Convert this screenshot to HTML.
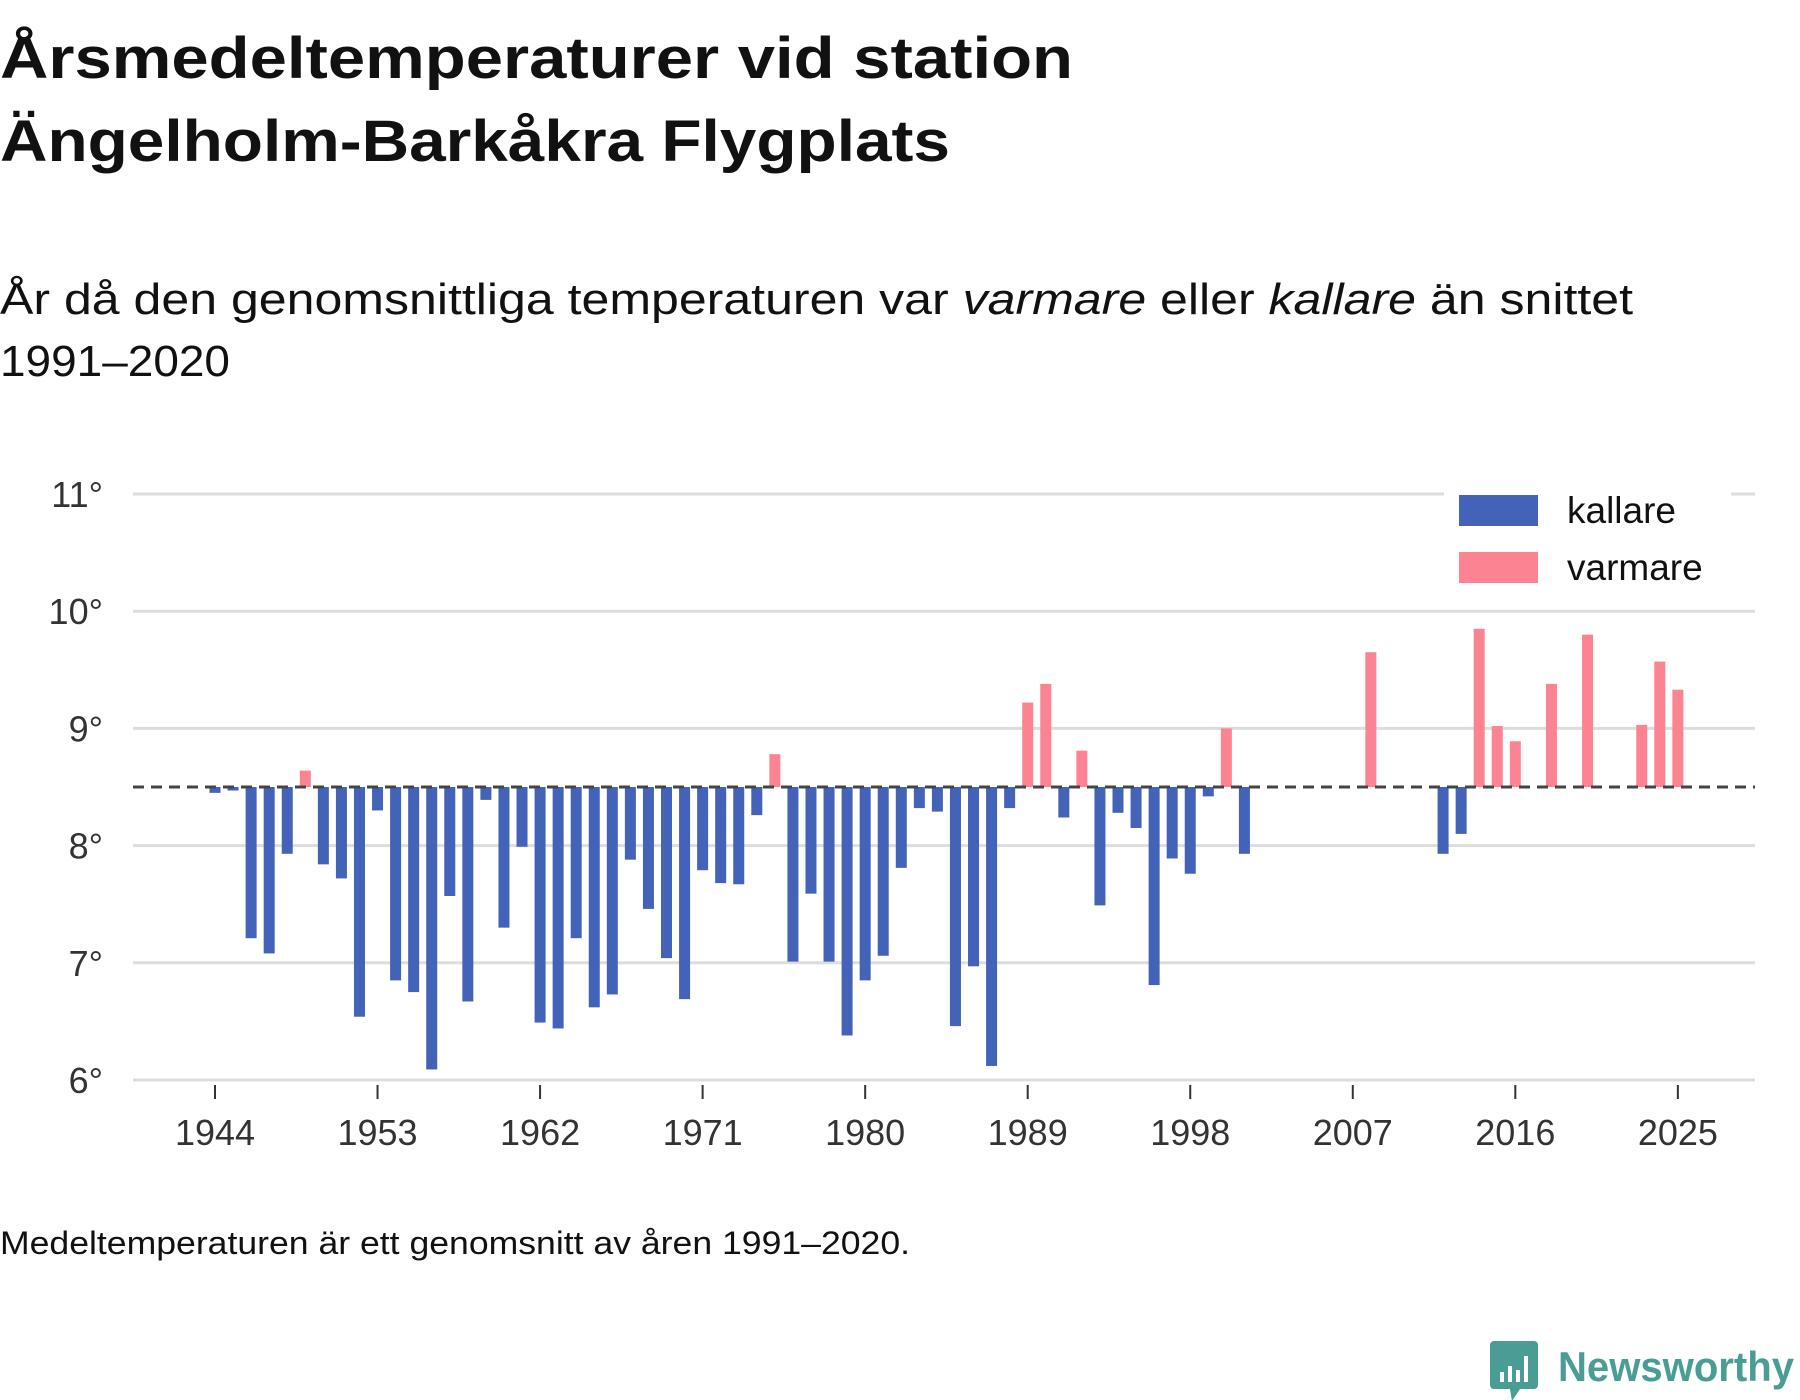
<!DOCTYPE html>
<html><head><meta charset="utf-8"><style>
html,body{margin:0;padding:0;background:#fff;}
svg{display:block;font-family:"Liberation Sans",sans-serif;}
</style></head><body>
<svg id="chart" width="1800" height="1400" viewBox="0 0 1800 1400">
<g>
<text x="0" y="78" font-size="58" font-weight="bold" fill="#111" textLength="1073" lengthAdjust="spacingAndGlyphs">Årsmedeltemperaturer vid station</text>
<text x="0" y="161" font-size="58" font-weight="bold" fill="#111" textLength="950" lengthAdjust="spacingAndGlyphs">Ängelholm-Barkåkra Flygplats</text>
<text x="0" y="314" font-size="44" fill="#111" textLength="1633" lengthAdjust="spacingAndGlyphs">År då den genomsnittliga temperaturen var <tspan font-style="italic">varmare</tspan> eller <tspan font-style="italic">kallare</tspan> än snittet</text>
<text x="0" y="376" font-size="44" fill="#111" textLength="230" lengthAdjust="spacingAndGlyphs">1991–2020</text>
</g>
<g id="grid"></g>
<g id="bars"></g>
<g id="axes"></g>
<g>
<rect x="1444" y="488" width="287" height="100" fill="#fff"/>
<rect x="1459" y="495" width="79" height="31" fill="#4263b8"/>
<text x="1567" y="523" font-size="37" fill="#111">kallare</text>
<rect x="1459" y="552" width="79" height="31" fill="#fc8391"/>
<text x="1567" y="580" font-size="37" fill="#111">varmare</text>
</g>
<text x="0" y="1254" font-size="32" fill="#111" textLength="910" lengthAdjust="spacingAndGlyphs">Medeltemperaturen är ett genomsnitt av åren 1991–2020.</text>
<g>
<path d="M1494 1341 h40 a4 4 0 0 1 4 4 v40 a4 4 0 0 1 -4 4 h-14 l-8 12 l-2 -12 h-16 a4 4 0 0 1 -4 -4 v-40 a4 4 0 0 1 4 -4z" fill="#4a9d95"/>
<rect x="1500" y="1372" width="4" height="10" fill="#fff"/>
<rect x="1508" y="1366" width="4" height="16" fill="#fff"/>
<rect x="1516" y="1370" width="4" height="12" fill="#fff"/>
<rect x="1524" y="1356" width="4" height="26" fill="#fff"/>
<text x="1558" y="1381" font-size="42" font-weight="bold" fill="#4a9d95" textLength="236" lengthAdjust="spacingAndGlyphs">Newsworthy</text>
</g>
</svg>
<script>
const years = [];
for (let y = 1944; y <= 2025; y++) years.push(y);
const baselineTemp = 8.5;
const temps = [
8.45,8.47,7.21,7.08,7.93,8.64,7.84,7.72,6.54,8.30,
6.85,6.75,6.09,7.57,6.67,8.39,7.30,7.99,6.49,6.44,
7.21,6.62,6.73,7.88,7.46,7.04,6.69,7.79,7.68,7.67,
8.26,8.78,7.01,7.59,7.01,6.38,6.85,7.06,7.81,8.32,
8.29,6.46,6.97,6.12,8.32,9.22,9.38,8.24,8.81,7.49,
8.28,8.15,6.81,7.89,7.76,8.42,9.00,7.93,null,null,
null,null,null,null,9.65,null,null,null,7.93,8.10,
9.85,9.02,8.89,null,9.38,null,9.80,null,null,9.03,
9.57,9.33];
const yTicks = [6,7,8,9,10,11];
const yTickLabels = ["6°","7°","8°","9°","10°","11°"];
const xTicks = [1944,1953,1962,1971,1980,1989,1998,2007,2016,2025];
const xTickLabels = ["1944","1953","1962","1971","1980","1989","1998","2007","2016","2025"];

const NS = "http://www.w3.org/2000/svg";
const xScale = y => 215 + (y - 1944) * 18.06;
const yScale = v => 1080 - (v - 6) * 117.2;
function mk(tag, attrs, parent){const e=document.createElementNS(NS,tag);for(const k in attrs)e.setAttribute(k,attrs[k]);parent.appendChild(e);return e;}
const grid=document.getElementById('grid'), bars=document.getElementById('bars'), axes=document.getElementById('axes');
yTicks.forEach((t,i)=>{
  const l=mk('line',{x1:133,x2:1755,y1:yScale(t),y2:yScale(t),stroke:'#dddddd','stroke-width':3},grid);
  
  
  const tx=mk('text',{x:103,y:yScale(t)+13,'font-size':36,fill:'#333','text-anchor':'end'},axes);
  tx.textContent=yTickLabels[i];
  
  
});
years.forEach((yr,i)=>{
  const v=temps[i]; if(v===null) return;
  const y0=yScale(baselineTemp), y1=yScale(v);
  const r=mk('rect',{x:xScale(yr)-5.5,y:Math.min(y0,y1),width:11,height:Math.abs(y1-y0),fill:v>=baselineTemp?'#fc8391':'#4263b8'},bars);
  
  
});
const dl=mk('line',{x1:133,x2:1755,y1:yScale(baselineTemp),y2:yScale(baselineTemp),stroke:'#444','stroke-width':3,'stroke-dasharray':'11 7'},axes);


xTicks.forEach((t,i)=>{
  const tk=mk('line',{x1:xScale(t),x2:xScale(t),y1:1085,y2:1099,stroke:'#333','stroke-width':2},axes);
  
  
  const tx=mk('text',{x:xScale(t),y:1145,'font-size':36,fill:'#333','text-anchor':'middle'},axes);
  tx.textContent=xTickLabels[i];
  
  
});
</script>
</body></html>
